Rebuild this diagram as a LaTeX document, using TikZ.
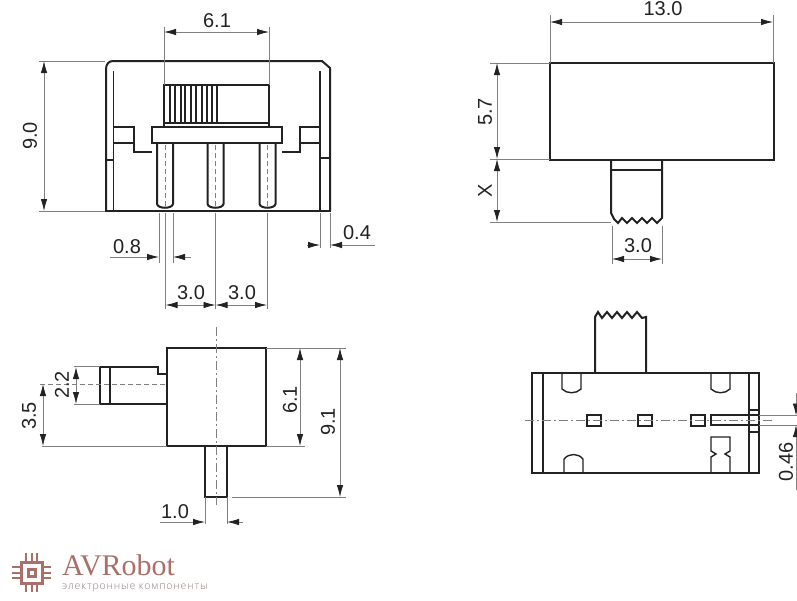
\documentclass[tikz,border=0pt]{standalone}
\usepackage{fontspec}
\setmainfont{Liberation Sans}
\newfontfamily\logoserif{Liberation Serif}
\newfontfamily\logosans[LetterSpace=8]{Open Sans Light}
\usetikzlibrary{arrows.meta}
\definecolor{inkdark}{HTML}{222222}
\definecolor{inkthin}{HTML}{808080}
\definecolor{logored}{HTML}{A9706A}
\definecolor{logogrey}{HTML}{8F7F7C}

\begin{document}
\begin{tikzpicture}[
    x=1pt, y=-1pt,
    outline/.style={draw=inkdark, line width=2pt, line join=miter},
    thin part/.style={draw=inkdark, line width=1.4pt},
    extline/.style={draw=inkthin, line width=0.7pt},
    centreline/.style={draw=inkthin, line width=0.8pt, dash pattern=on 9pt off 3pt on 2pt off 3pt},
    hiddenline/.style={draw=inkthin, line width=0.8pt, dash pattern=on 5pt off 3pt},
    tipdark/.tip={Latex[length=12pt,width=6.5pt,color=inkdark,fill=inkdark]},
    dimline/.style={draw=inkthin, line width=0.8pt},
    dimboth/.style={dimline, tipdark-tipdark},
    dimin/.style={dimline, -tipdark},
    dimtext/.style={font=\fontsize{20}{20}\selectfont, text=inkdark, inner sep=0pt},
    dimup/.style={dimtext, rotate=90}
]
    \useasboundingbox (0,0) rectangle (797,600);

    % front view
    \draw[outline] (106,211) -- (106,69) .. controls (106,64) and (109,61) .. (113,61) -- (322,61) -- (330,68) -- (330,211);
    \draw[outline] (105,211) -- (331,211);
    \draw[thin part] (113.5,71) -- (113.5,211) (320,71) -- (320,211);
    \draw[thin part] (106,160) -- (113,160) (320,158) -- (330,158);
    \draw[outline] (114,127) -- (134,127) -- (134,152) -- (152,152) (114,143) -- (134,143);
    \draw[outline] (320,127) -- (300,127) -- (300,152) -- (282,152) (320,143) -- (300,143);
    \draw[outline] (152,127) rectangle (282,143);
    \draw[outline] (163.5,127) -- (163.5,85) -- (269,85) -- (269,127);
    \draw[thin part] (164,123) -- (269,123);
    \foreach \ribx in {170,175,181,185,191,196,202,207,212,217}
        \draw[thin part] (\ribx,85) -- (\ribx,122);
    \foreach \pinx in {165,215.5,267.5} {
        \draw[outline] (\pinx-8,143) -- (\pinx-8,204) .. controls (\pinx-7,209) and (\pinx+7,209) .. (\pinx+8,204) -- (\pinx+8,143);
        \draw[hiddenline] (\pinx,145) -- (\pinx,206);
    }

    % front view, dimensions
    \draw[extline] (164,27) -- (164,85) (269,27) -- (269,85);
    \draw[dimboth] (164,32) -- (269,32);
    \node[dimtext] (widthA) at (217,21) {6.1};
    \draw[extline] (39,61) -- (105,61) (39,211) -- (105,211);
    \draw[dimboth] (44,61) -- (44,211);
    \node[dimup] (heightA) at (30,136) {9.0};
    \draw[extline] (159,213) -- (159,263) (173,213) -- (173,263);
    \draw[dimin] (110,257) -- (159,257);
    \draw[dimin] (191,257) -- (173,257);
    \node[dimtext] (pinwidth) at (127,247) {0.8};
    \draw[extline] (320,213) -- (320,248) (330,213) -- (330,248);
    \draw[dimin] (307,245) -- (320,245);
    \draw[dimin] (375,245) -- (330,245);
    \node[dimtext] (wallwidth) at (357,233) {0.4};
    \draw[extline] (165.5,213) -- (165.5,309) (215.5,213) -- (215.5,309) (267,213) -- (267,309);
    \draw[dimboth] (165.5,305) -- (215.5,305);
    \draw[dimboth] (215.5,305) -- (267,305);
    \node[dimtext] (pitchA) at (191,293) {3.0};
    \node[dimtext] (pitchB) at (242,293) {3.0};

    % top right view
    \draw[outline] (550,63) rectangle (774,160);
    \draw[outline] (611,160) -- (611,213) -- (614,219) -- (618,223) -- (622,218) -- (627,223) -- (632,218) -- (637,223) -- (642,218) -- (647,223) -- (652,218) -- (657,223) -- (662,218) -- (662,160);
    \draw[outline] (611,170) -- (662,170);
    \draw[extline] (550,15) -- (550,63) (773,15) -- (773,63);
    \draw[dimboth] (550,22) -- (773,22);
    \node[dimtext] (lengthA) at (663,9) {13.0};
    \draw[extline] (490,63) -- (550,63) (490,159) -- (550,159) (490,222) -- (611,222);
    \draw[dimboth] (497,63) -- (497,159);
    \draw[dimboth] (497,159) -- (497,222);
    \node[dimup] (depthA) at (485,112) {5.7};
    \node[dimup] (travelX) at (485,191) {X};
    \draw[extline] (612,226) -- (612,264) (662,226) -- (662,264);
    \draw[dimboth] (612,259) -- (662,259);
    \node[dimtext] (knobwidth) at (638,246) {3.0};

    % bottom left view
    \draw[outline] (167,348) rectangle (266,446);
    \draw[outline] (205,446) -- (205,497) -- (227,497) -- (227,446);
    \draw[outline] (167,374) -- (158,374) -- (158,367) -- (100,367) -- (100,404) -- (167,404);
    \draw[outline] (110,367) -- (110,404);
    \draw[centreline] (216,327) -- (216,505);
    \draw[hiddenline] (40,384) -- (167,384);
    \draw[extline] (74,366.5) -- (100,366.5) (74,404) -- (100,404);
    \draw[dimboth] (76,367) -- (76,404);
    \node[dimup] (slideh) at (62,385) {2.2};
    \draw[extline] (42,446) -- (167,446);
    \draw[dimboth] (43,384) -- (43,446);
    \node[dimup] (slideoff) at (29,416) {3.5};
    \draw[extline] (266,348) -- (346,348) (266,446) -- (305,446) (232,497) -- (346,497);
    \draw[dimboth] (300,348) -- (300,446);
    \node[dimup] (widthB) at (290,400) {6.1};
    \draw[dimboth] (340,348) -- (340,497);
    \node[dimup] (heightB) at (328,422) {9.1};
    \draw[extline] (205,497) -- (205,524) (227,497) -- (227,524);
    \draw[dimin] (160,522) -- (205,522);
    \draw[dimin] (243,522) -- (227,522);
    \node[dimtext] (stemwidth) at (175,512) {1.0};

    % bottom right view
    \draw[thin part] (532,373) rectangle (759,473);
    \draw[outline] (543,373) -- (543,473);
    \draw[thin part] (749,373) -- (749,473);
    \draw[outline] (595,373) -- (595,317) -- (598,312) -- (602,318) -- (607,312) -- (612,318) -- (617,312) -- (622,318) -- (627,312) -- (632,318) -- (637,312) -- (642,318) -- (646,317) -- (646,373);
    \draw[outline] (595,373) -- (646,373);
    \draw[thin part] (562,373) -- (562,389) .. controls (567,394) and (576,394) .. (581,389) -- (581,373);
    \draw[thin part] (711,373) -- (711,389) .. controls (716,394) and (725,394) .. (730,389) -- (730,373);
    \draw[thin part] (564,473) -- (564,459) .. controls (569,453) and (578,453) .. (583,459) -- (583,473);
    \draw[thin part] (711,473) -- (711,457) -- (716,454) -- (711,451) -- (711,437) -- (730,437) -- (730,451) -- (725,454) -- (730,457) -- (730,473);
    \foreach \holex in {587,638,691}
        \draw[thin part] (\holex,415) rectangle (\holex+14,426);
    \draw[thin part] (711,415) rectangle (759,425);
    \draw[thin part] (749,410) rectangle (759,432);
    \draw[centreline] (525,420) -- (775,420);
    \draw[extline] (759,415.5) -- (797,415.5) (759,425) -- (797,425);
    \draw[dimin] (796,393) -- (796,415.5);
    \draw[dimin] (796,490) -- (796,425);
    \node[dimup] (leadwidth) at (786,462) {0.46};

    % logo
    \draw[logored, line width=3pt] (21,562) rectangle (42,583);
    \draw[logored, line width=3pt] (28,569) rectangle (35,576);
    \foreach \tick in {0,1,2} {
        \draw[logored, line width=2pt] (26+\tick*5.5,553) -- (26+\tick*5.5,561);
        \draw[logored, line width=2pt] (26+\tick*5.5,584) -- (26+\tick*5.5,592);
        \draw[logored, line width=2pt] (12,567+\tick*5.5) -- (20,567+\tick*5.5);
        \draw[logored, line width=2pt] (43,567+\tick*5.5) -- (51,567+\tick*5.5);
    }
    \node[anchor=base west, inner sep=0pt, text=logored, font=\logoserif\fontsize{30}{30}\selectfont] (brand) at (62,575.5) {AVRobot};
    \node[anchor=base west, inner sep=0pt, text=logogrey, font=\logosans\fontsize{10.5}{11}\selectfont] (tagline) at (62,589.5) {электронные компоненты};

\end{tikzpicture}
\end{document}
